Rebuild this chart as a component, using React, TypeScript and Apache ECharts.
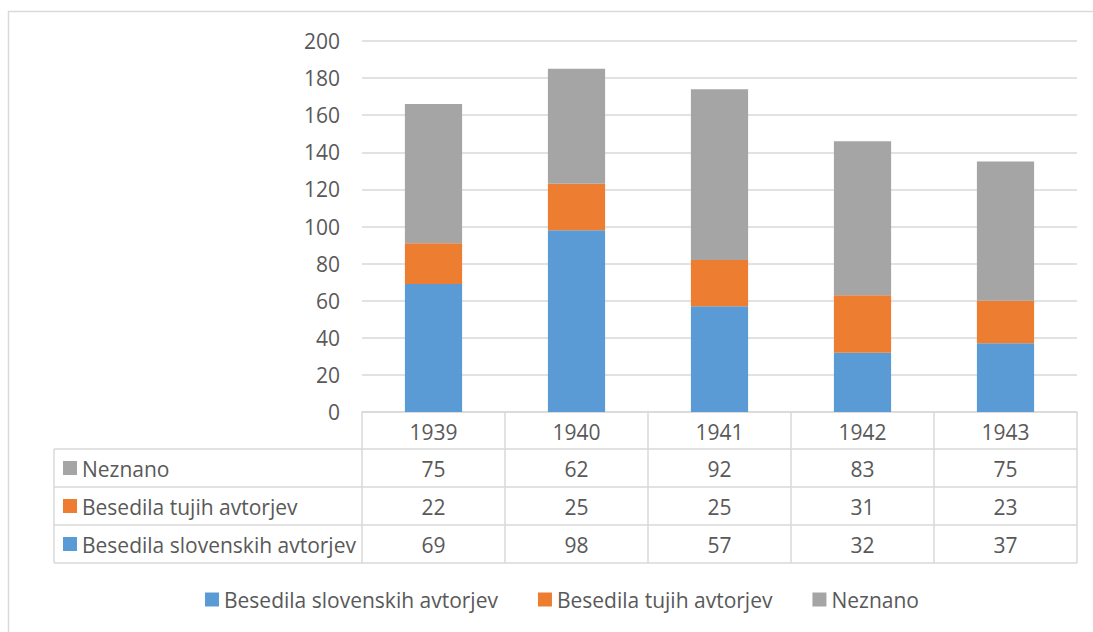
import React, { useEffect, useRef } from "react";
import * as echarts from "echarts";

const years = ["1939", "1940", "1941", "1942", "1943"];
const seriesNames = ["Besedila slovenskih avtorjev", "Besedila tujih avtorjev", "Neznano"];
const slovenskih = [69, 98, 57, 32, 37];
const tujih = [22, 25, 25, 31, 23];
const neznano = [75, 62, 92, 83, 75];
const colors = ["#5B9BD5", "#ED7D31", "#A5A5A5"];
const yTicks = { min: 0, max: 200, interval: 20 };

const FONT = "'Open Sans', sans-serif";
const TXT = "#595959";
const LINE = "#D9D9D9";

export default function App() {
  const ref = useRef<HTMLDivElement>(null);
  useEffect(() => {
    if (!ref.current) return;
    const chart = echarts.init(ref.current, undefined, { renderer: "svg" });
    const values = [slovenskih, tujih, neznano];
    chart.setOption({
      animation: false,
      textStyle: { fontFamily: FONT },
      grid: { left: 362, right: 16, top: 41, bottom: 220, containLabel: false },
      legend: {
        data: seriesNames,
        left: 200,
        top: 584,
        icon: "rect",
        itemWidth: 14,
        itemHeight: 14,
        itemGap: 40,
        textStyle: { fontSize: 21, color: TXT, fontFamily: FONT },
      },
      xAxis: {
        type: "category",
        data: years,
        axisLabel: { show: false },
        axisTick: { show: false },
        axisLine: { show: true, lineStyle: { color: LINE, width: 1.5 } },
      },
      yAxis: {
        type: "value",
        min: yTicks.min,
        max: yTicks.max,
        interval: yTicks.interval,
        axisLabel: { fontSize: 21, color: TXT, margin: 22, fontFamily: FONT },
        axisLine: { show: false },
        axisTick: { show: false },
        splitLine: { lineStyle: { color: LINE, width: 1.5 } },
      },
      series: seriesNames.map((name, i) => ({
        name,
        type: "bar",
        stack: "total",
        barWidth: "40%",
        data: values[i],
        itemStyle: { color: colors[i] },
      })),
    });

    const centers = years.map((y) => chart.convertToPixel({ xAxisIndex: 0 }, y) as number);
    const band = centers.length > 1 ? centers[1] - centers[0] : 143;
    const gx0 = centers[0] - band / 2;
    const gx1 = centers[centers.length - 1] + band / 2;
    const y0 = chart.convertToPixel({ yAxisIndex: 0 }, 0) as number;
    const headerH = 37;
    const rowH = 38;
    const tableLeft = 54;
    const rows = [
      { name: seriesNames[2], vals: neznano, color: colors[2] },
      { name: seriesNames[1], vals: tujih, color: colors[1] },
      { name: seriesNames[0], vals: slovenskih, color: colors[0] },
    ];
    const bottom = y0 + headerH + rowH * rows.length;
    const lineStyle = { stroke: LINE, lineWidth: 1.5 };
    const g: any[] = [];
    g.push({
      type: "rect",
      shape: { x: 8.5, y: 11.5, width: 1200, height: 800 },
      style: { fill: "none", stroke: LINE, lineWidth: 1.5 },
      silent: true,
    });
    for (let r = 0; r <= rows.length; r++) {
      const y = y0 + headerH + rowH * r;
      g.push({ type: "line", shape: { x1: tableLeft, y1: y, x2: gx1, y2: y }, style: lineStyle });
    }
    g.push({ type: "line", shape: { x1: tableLeft, y1: y0 + headerH, x2: tableLeft, y2: bottom }, style: lineStyle });
    for (let i = 0; i <= years.length; i++) {
      const x = gx0 + band * i;
      g.push({ type: "line", shape: { x1: x, y1: y0, x2: x, y2: bottom }, style: lineStyle });
    }
    years.forEach((yr, i) => {
      g.push({
        type: "text",
        style: {
          x: centers[i], y: y0 + headerH / 2 + 1, text: yr, fill: TXT,
          font: `21px ${FONT}`, align: "center", verticalAlign: "middle",
          textAlign: "center", textVerticalAlign: "middle",
        },
      });
    });
    rows.forEach((row, r) => {
      const cy = y0 + headerH + rowH * r + rowH / 2;
      g.push({ type: "rect", shape: { x: 63, y: cy - 7, width: 14, height: 14 }, style: { fill: row.color } });
      g.push({
        type: "text",
        style: {
          x: 82, y: cy + 1, text: row.name, fill: TXT, font: `21px ${FONT}`,
          align: "left", verticalAlign: "middle", textAlign: "left", textVerticalAlign: "middle",
        },
      });
      row.vals.forEach((v, i) => {
        g.push({
          type: "text",
          style: {
            x: centers[i], y: cy + 1, text: String(v), fill: TXT, font: `21px ${FONT}`,
            align: "center", verticalAlign: "middle", textAlign: "center", textVerticalAlign: "middle",
          },
        });
      });
    });
    chart.setOption({ graphic: g });

    return () => chart.dispose();
  }, []);
  return (
    <div
      ref={ref}
      style={{ position: "absolute", left: 0, top: 0, width: 1093, height: 632, background: "#fff" }}
    />
  );
}
